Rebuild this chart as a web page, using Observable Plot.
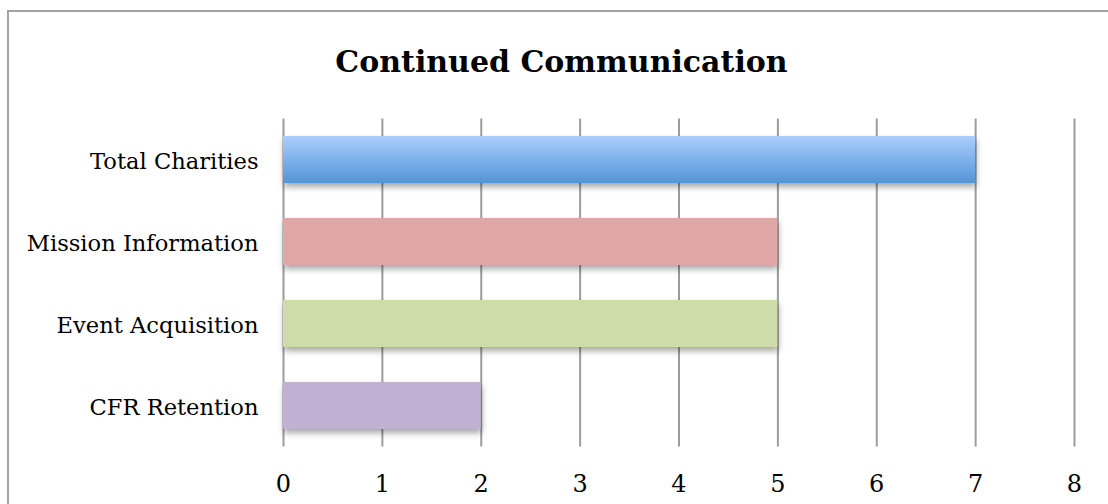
<!DOCTYPE html>
<html>
<head>
<meta charset="utf-8">
<script src="https://cdn.jsdelivr.net/npm/d3@7"></script>
<script src="https://cdn.jsdelivr.net/npm/@observablehq/plot@0.6"></script>
<style>
  html, body { margin: 0; padding: 0; background: #fff; }
  #chart { position: relative; width: 1108px; height: 504px; overflow: hidden; }
  #frame { position: absolute; left: 7px; top: 10px; width: 1300px; height: 700px;
           border-top: 2px solid #a3a3a3; border-left: 2px solid #a3a3a3; }
  #title { position: absolute; left: 0; width: 1123px; top: 62px; height: 0; line-height: 0;
           text-align: center; font-family: "DejaVu Serif", serif; font-weight: bold;
           font-size: 30px; color: #000; white-space: nowrap; }
  #plot { position: absolute; left: 0; top: 0; }
</style>
</head>
<body>
<div id="chart">
  <div id="frame"></div>
  <div id="title">Continued Communication</div>
  <div id="plot"></div>
</div>
<script>
// Categories, top to bottom
const categories = ["Total Charities", "Mission Information", "Event Acquisition", "CFR Retention"];
// Count for each category
const values = [7, 5, 5, 2];
// Bar fills (the first uses a vertical gradient defined below)
const fills = ["url(#bar-blue)", "#e0a7a6", "#cedcaa", "#c0b1d3"];
// Tick values along the count axis
const xTicks = [0, 1, 2, 3, 4, 5, 6, 7, 8];

const rows = categories.map((c, i) => ({category: c, value: values[i], fill: fills[i]}));

const svg = Plot.plot({
  width: 1108,
  height: 504,
  marginLeft: 283,
  marginRight: 34,
  marginTop: 118.5,
  marginBottom: 57.5,
  x: {domain: [0, 8], ticks: xTicks},
  y: {domain: categories, paddingInner: 0.43, paddingOuter: 0.215},
  color: {type: "identity"},
  style: {fontFamily: "DejaVu Serif, serif", fontSize: "22.6px", color: "#000", background: "transparent", overflow: "visible"},
  marks: [
    Plot.gridX(xTicks, {stroke: "#9c9c9c", strokeOpacity: 1, strokeWidth: 2}),
    Plot.barX(rows, {x: "value", y: "category", fill: "fill"}),
    Plot.axisX(xTicks, {tickSize: 0, tickPadding: 27.5, fontSize: 24, label: null}),
    Plot.axisY({tickSize: 0, tickPadding: 25, dy: 2, label: null})
  ]
});

// Gradient for the top bar
const defs = d3.select(svg).insert("defs", ":first-child");
const grad = defs.append("linearGradient")
  .attr("id", "bar-blue").attr("x1", 0).attr("y1", 0).attr("x2", 0).attr("y2", 1);
grad.append("stop").attr("offset", "0%").attr("stop-color", "#abcefd");
grad.append("stop").attr("offset", "100%").attr("stop-color", "#5295d9");

// Soft shadow under the bars
d3.select(svg).selectAll("g[aria-label='bar']")
  .style("filter", "drop-shadow(1px 4px 3px rgba(0,0,0,0.35))");

document.getElementById("plot").appendChild(svg);
</script>
</body>
</html>
